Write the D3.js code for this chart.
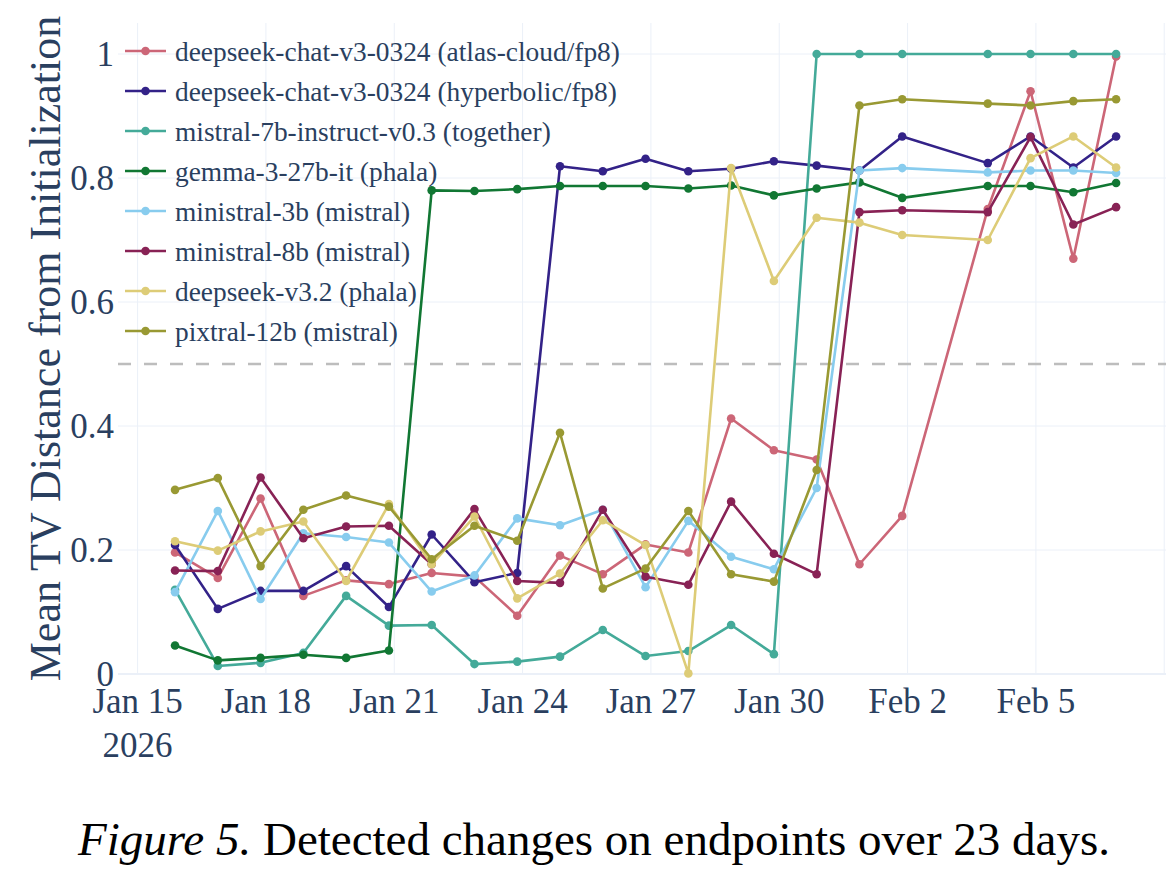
<!DOCTYPE html>
<html>
<head>
<meta charset="utf-8">
<script src="https://cdn.jsdelivr.net/npm/d3@7"></script>
<style>
  body { margin: 0; background: #fff; }
  svg { display: block; }
</style>
</head>
<body>
<script>
// timestamps (one run per day, Feb 2 missing)
const dates = [
  "2026-01-15T21:00:00Z", "2026-01-16T21:00:00Z", "2026-01-17T21:00:00Z", "2026-01-18T21:00:00Z",
  "2026-01-19T21:00:00Z", "2026-01-20T21:00:00Z", "2026-01-21T21:00:00Z", "2026-01-22T21:00:00Z",
  "2026-01-23T21:00:00Z", "2026-01-24T21:00:00Z", "2026-01-25T21:00:00Z", "2026-01-26T21:00:00Z",
  "2026-01-27T21:00:00Z", "2026-01-28T21:00:00Z", "2026-01-29T21:00:00Z", "2026-01-30T21:00:00Z",
  "2026-01-31T21:00:00Z", "2026-02-01T21:00:00Z", "2026-02-03T21:00:00Z", "2026-02-04T21:00:00Z",
  "2026-02-05T21:00:00Z", "2026-02-06T21:00:00Z"
];

const seriesNames = [
  "deepseek-chat-v3-0324 (atlas-cloud/fp8)",
  "deepseek-chat-v3-0324 (hyperbolic/fp8)",
  "mistral-7b-instruct-v0.3 (together)",
  "gemma-3-27b-it (phala)",
  "ministral-3b (mistral)",
  "ministral-8b (mistral)",
  "deepseek-v3.2 (phala)",
  "pixtral-12b (mistral)"
];

const atlasCloud = [0.196, 0.155, 0.283, 0.126, 0.151, 0.145, 0.163, 0.157, 0.094, 0.191, 0.161,
  0.209, 0.196, 0.412, 0.361, 0.346, 0.177, 0.255, 0.750, 0.940, 0.670, 0.996];
const hyperbolic = [0.208, 0.105, 0.134, 0.134, 0.174, 0.108, 0.225, 0.148, 0.163, 0.819, 0.811,
  0.831, 0.811, 0.815, 0.827, 0.820, 0.812, 0.867, 0.824, 0.867, 0.817, 0.867];
const together = [0.136, 0.013, 0.018, 0.034, 0.126, 0.078, 0.079, 0.016, 0.020, 0.028, 0.071,
  0.029, 0.037, 0.079, 0.032, 1.0, 1.0, 1.0, 1.0, 1.0, 1.0, 1.0];
const gemma = [0.046, 0.022, 0.026, 0.031, 0.026, 0.038, 0.780, 0.779, 0.782, 0.787, 0.787,
  0.787, 0.783, 0.788, 0.772, 0.783, 0.793, 0.768, 0.787, 0.787, 0.777, 0.792];
const ministral3b = [0.132, 0.263, 0.121, 0.227, 0.221, 0.212, 0.133, 0.159, 0.251, 0.240, 0.265,
  0.140, 0.247, 0.189, 0.169, 0.300, 0.812, 0.816, 0.809, 0.812, 0.812, 0.808];
const ministral8b = [0.167, 0.166, 0.317, 0.219, 0.238, 0.239, 0.177, 0.266, 0.150, 0.147, 0.265,
  0.157, 0.144, 0.278, 0.194, 0.161, 0.745, 0.748, 0.745, 0.866, 0.725, 0.753];
const deepseekV32 = [0.214, 0.199, 0.230, 0.246, 0.150, 0.274, 0.177, 0.254, 0.122, 0.162, 0.248,
  0.208, 0.001, 0.816, 0.634, 0.736, 0.728, 0.708, 0.700, 0.832, 0.867, 0.817];
const pixtral = [0.297, 0.316, 0.174, 0.265, 0.288, 0.270, 0.185, 0.239, 0.215, 0.389, 0.138,
  0.170, 0.263, 0.161, 0.149, 0.329, 0.917, 0.927, 0.920, 0.917, 0.924, 0.927];

const seriesValues = [atlasCloud, hyperbolic, together, gemma, ministral3b, ministral8b, deepseekV32, pixtral];
const colors = ["#CC6677", "#332288", "#44AA99", "#117733", "#88CCEE", "#882255", "#DDCC77", "#999933"];

const yTicks = [0, 0.2, 0.4, 0.6, 0.8, 1];
const threshold = 0.5;
const caption = "Detected changes on endpoints over 23 days.";

// sizes
const width = 1166, height = 870;
const plot = { left: 118, right: 1166, top: 23, bottom: 674 };
const font = "'Liberation Serif', 'Times New Roman', serif";
const axisColor = "#2a3f5f";
const gridColor = "#ebf0f8";

const parsed = dates.map(d => new Date(d));

const svg = d3.select("body").append("svg")
  .attr("width", width)
  .attr("height", height)
  .style("background", "#fff");

const x = d3.scaleUtc()
  .domain([new Date("2026-01-14T13:00:00Z"), new Date("2026-02-08T01:00:00Z")])
  .range([plot.left, plot.right]);

const y = d3.scaleLinear()
  .domain([0, 1.05])
  .range([plot.bottom, plot.top]);

// every 3 days starting Jan 15
const xTickVals = d3.utcDay.every(1)
  .range(new Date("2026-01-15T00:00:00Z"), new Date("2026-02-09T00:00:00Z"))
  .filter((d, i) => i % 3 === 0);

// vertical grid
svg.append("g")
  .selectAll("line")
  .data(xTickVals)
  .join("line")
  .attr("x1", d => x(d)).attr("x2", d => x(d))
  .attr("y1", plot.top).attr("y2", plot.bottom)
  .attr("stroke", gridColor)
  .attr("stroke-width", 1);

// horizontal grid
svg.append("g")
  .selectAll("line")
  .data(yTicks.filter(d => d > 0))
  .join("line")
  .attr("x1", plot.left).attr("x2", plot.right)
  .attr("y1", d => y(d)).attr("y2", d => y(d))
  .attr("stroke", gridColor)
  .attr("stroke-width", 1);

// zero line
svg.append("line")
  .attr("x1", plot.left).attr("x2", plot.right)
  .attr("y1", y(0)).attr("y2", y(0))
  .attr("stroke", gridColor)
  .attr("stroke-width", 2);

// threshold
svg.append("line")
  .attr("x1", plot.left).attr("x2", plot.right)
  .attr("y1", y(threshold)).attr("y2", y(threshold))
  .attr("stroke", "#bdbdbd")
  .attr("stroke-width", 2.5)
  .attr("stroke-dasharray", "13,13");

// y tick labels
svg.append("g")
  .selectAll("text")
  .data(yTicks)
  .join("text")
  .attr("x", plot.left - 4)
  .attr("y", d => y(d) + 12)
  .attr("text-anchor", "end")
  .attr("font-family", font)
  .attr("font-size", 35)
  .attr("fill", axisColor)
  .text(d => d === 0 ? "0" : d === 1 ? "1" : d3.format(".1f")(d));

// x tick labels
const fmt = d3.utcFormat("%b %-d");
svg.append("g")
  .selectAll("text")
  .data(xTickVals.filter(d => x(d) < plot.right - 40))
  .join("text")
  .attr("x", d => x(d))
  .attr("y", 713)
  .attr("text-anchor", "middle")
  .attr("font-family", font)
  .attr("font-size", 35)
  .attr("fill", axisColor)
  .text(d => fmt(d));

svg.append("text")
  .attr("x", x(xTickVals[0]))
  .attr("y", 757)
  .attr("text-anchor", "middle")
  .attr("font-family", font)
  .attr("font-size", 35)
  .attr("fill", axisColor)
  .text("2026");

// y axis title
svg.append("text")
  .attr("transform", `translate(60, ${(plot.top + plot.bottom) / 2}) rotate(-90)`)
  .attr("text-anchor", "middle")
  .attr("font-family", font)
  .attr("font-size", 44)
  .attr("fill", axisColor)
  .text("Mean TV Distance from Initialization");

// series
const line = d3.line()
  .x((d, i) => x(parsed[i]))
  .y(d => y(d));

const seriesG = svg.append("g");
seriesValues.forEach((vals, k) => {
  const g = seriesG.append("g");
  g.append("path")
    .attr("d", line(vals))
    .attr("fill", "none")
    .attr("stroke", colors[k])
    .attr("stroke-width", 2.6)
    .attr("stroke-linejoin", "round");
  g.selectAll("circle")
    .data(vals)
    .join("circle")
    .attr("cx", (d, i) => x(parsed[i]))
    .attr("cy", d => y(d))
    .attr("r", 4.3)
    .attr("fill", colors[k]);
});

// legend
const legend = svg.append("g").attr("transform", "translate(125, 51)");
seriesNames.forEach((name, k) => {
  const row = legend.append("g").attr("transform", `translate(0, ${k * 40})`);
  row.append("line")
    .attr("x1", 0).attr("x2", 41)
    .attr("stroke", colors[k])
    .attr("stroke-width", 2.6);
  row.append("circle")
    .attr("cx", 20.5).attr("r", 4.3)
    .attr("fill", colors[k]);
  row.append("text")
    .attr("x", 50)
    .attr("y", 10)
    .attr("font-family", font)
    .attr("font-size", 27.4)
    .attr("fill", axisColor)
    .text(name);
});

// caption
const cap = svg.append("text")
  .attr("x", 594)
  .attr("y", 855)
  .attr("text-anchor", "middle")
  .attr("font-family", font)
  .attr("font-size", 47)
  .attr("fill", "#000");
cap.append("tspan").attr("font-style", "italic").text("Figure 5.");
cap.append("tspan").text(" " + caption);
</script>
</body>
</html>
